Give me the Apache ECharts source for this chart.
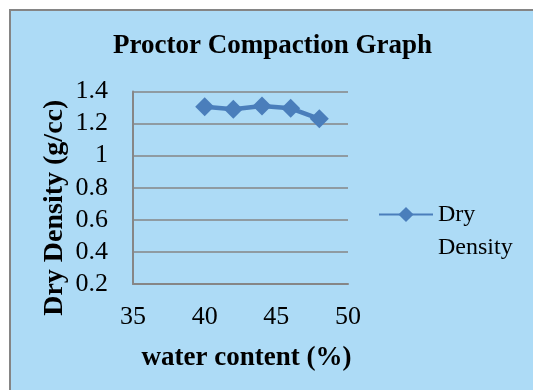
<!DOCTYPE html>
<html>
<head>
<meta charset="utf-8">
<script src="https://cdn.jsdelivr.net/npm/echarts@6/dist/echarts.min.js"></script>
<style>
html,body{margin:0;padding:0;background:#fff;overflow:hidden;width:533px;height:390px;}
#bg{position:absolute;left:9px;top:9px;width:700px;height:500px;background:#ADDBF6;border-left:2px solid #858585;border-top:2px solid #858585;}
#c{position:absolute;left:0;top:0;width:533px;height:390px;}
</style>
</head>
<body>
<div id="bg"></div>
<div id="c"></div>
<script>
var waterContent = [40, 42, 44, 46, 48];
var dryDensity = [1.305, 1.29, 1.31, 1.295, 1.23];
var seriesName = 'Dry Density';
var titleText = 'Proctor Compaction Graph';
var xName = 'water content (%)';
var yName = 'Dry Density (g/cc)';

var chart = echarts.init(document.getElementById('c'), null, {renderer: 'canvas'});
var font = '"Liberation Serif", "Times New Roman", serif';
chart.setOption({
  backgroundColor: 'transparent',
  animation: false,
  title: {
    text: titleText,
    left: 108,
    top: 28,
    textStyle: {fontFamily: font, fontWeight: 'bold', fontSize: 27, color: '#000'}
  },
  legend: {
    data: [seriesName],
    left: 378,
    top: 165,
    padding: 0,
    itemWidth: 54,
    itemHeight: 19,
    formatter: function () { return '\nDry\nDensity'; },
    textStyle: {fontFamily: font, fontSize: 24, color: '#000', lineHeight: 33}
  },
  grid: {left: 133, right: 185, top: 91.5, bottom: 106, containLabel: false},
  xAxis: {
    type: 'value',
    min: 35, max: 50, interval: 5,
    name: xName,
    nameLocation: 'middle',
    nameGap: 61,
    nameTextStyle: {fontFamily: font, fontWeight: 'bold', fontSize: 27, color: '#000', padding: [0, 0, 0, 12]},
    axisLine: {onZero: false, lineStyle: {color: '#868686', width: 2}},
    axisTick: {show: false},
    axisLabel: {fontFamily: font, fontSize: 26, color: '#000', margin: 20},
    splitLine: {show: false}
  },
  yAxis: {
    type: 'value',
    min: 0.2, max: 1.4, interval: 0.2,
    name: yName,
    nameLocation: 'middle',
    nameGap: 64,
    nameRotate: 90,
    nameTextStyle: {fontFamily: font, fontWeight: 'bold', fontSize: 28, color: '#000', padding: [0, 40, 0, 0]},
    axisLine: {show: true, lineStyle: {color: '#868686', width: 2}},
    axisTick: {show: false},
    axisLabel: {fontFamily: font, fontSize: 26, color: '#000', margin: 25,
      formatter: function (v) { return String(Math.round(v * 10) / 10); }},
    splitLine: {show: true, lineStyle: {color: '#868686', width: 1.5}}
  },
  series: [{
    name: seriesName,
    type: 'line',
    data: waterContent.map(function (x, i) { return [x, dryDensity[i]]; }),
    symbol: 'diamond',
    symbolSize: 19,
    lineStyle: {color: '#4A7EBB', width: 4.5},
    itemStyle: {color: '#4A7EBB'}
  }]
});
</script>
</body>
</html>
